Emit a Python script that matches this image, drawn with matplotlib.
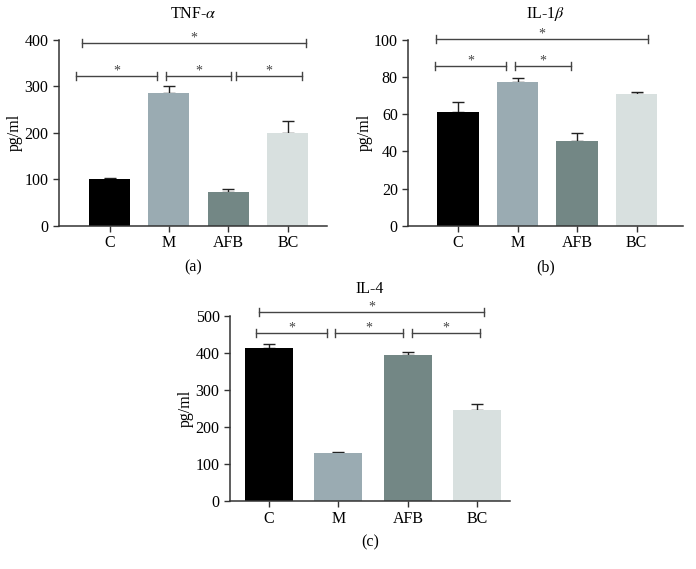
"""Cytokine levels (TNF-a, IL-1b, IL-4) per group, three bar panels."""

import numpy as np
import matplotlib
matplotlib.use("Agg")
import matplotlib.pyplot as plt

plt.rcParams['font.family'] = ['Liberation Serif', 'DejaVu Serif']
plt.rcParams['mathtext.fontset'] = 'stix'

groups = ['C', 'M', 'AFB', 'BC']
colors = ['#000000', '#9aabb2', '#738785', '#d8e0df']

tnf_mean = [100, 285, 72, 199]
tnf_err = [2, 16, 8, 26]

il1b_mean = [61.4, 77.5, 45.6, 70.8]
il1b_err = [5.2, 1.9, 4.2, 1.0]

il4_mean = [412, 130, 393, 246]
il4_err = [11, 1.5, 9, 17]

# significance brackets: (x start, x end, height)
tnf_sig = [(-0.47, 3.30, 393), (-0.57, 0.80, 323), (0.955, 2.04, 323), (2.13, 3.24, 323)]
il1b_sig = [(-0.375, 3.20, 100.5), (-0.39, 0.81, 86.2), (0.96, 1.90, 86.2)]
il4_sig = [(-0.14, 3.10, 511), (-0.19, 0.84, 454), (0.955, 1.93, 454), (2.065, 3.04, 454)]

AX_COLOR = '#333333'


def draw_panel(ax, means, errs, sig, ymax, ystep, xlim, title, label):
    x = np.arange(len(groups))
    ax.bar(x, means, width=0.69, color=colors, zorder=2)
    ax.errorbar(x, means, yerr=[np.zeros(len(errs)), errs], fmt='none',
                ecolor='#222222', elinewidth=1.0, capsize=4.5, capthick=1.0,
                zorder=1)

    ax.set_xlim(*xlim)
    ax.set_ylim(0, ymax)
    ax.set_yticks(np.arange(0, ymax + ystep / 2, ystep))
    ax.set_xticks(x)
    ax.set_xticklabels(groups, fontsize=11.5)
    ax.tick_params(axis='y', labelsize=11.5, length=4, width=1.0, color=AX_COLOR)
    ax.tick_params(axis='x', length=4, width=1.0, color=AX_COLOR, pad=3)
    for side in ['top', 'right']:
        ax.spines[side].set_visible(False)
    for side in ['left', 'bottom']:
        ax.spines[side].set_color(AX_COLOR)
        ax.spines[side].set_linewidth(1.1)
    ax.set_ylabel('pg/ml', fontsize=11.5, labelpad=1)

    cap = ymax * 0.022
    for x0, x1, h in sig:
        ax.plot([x0, x1], [h, h], color='#444444', lw=1.0, clip_on=False)
        ax.plot([x0, x0], [h - cap, h + cap], color='#444444', lw=1.0, clip_on=False)
        ax.plot([x1, x1], [h - cap, h + cap], color='#444444', lw=1.0, clip_on=False)
        ax.text((x0 + x1) / 2, h - ymax * 0.008, '*', ha='center', va='bottom',
                fontsize=10, color='#444444')

    ax.set_title(title, fontsize=11.5, pad=16)
    ax.text(0.5, -0.18, label, transform=ax.transAxes, ha='center', va='top',
            fontsize=11.5)


fig = plt.figure(figsize=(6.96, 5.69), dpi=100)

ax_a = fig.add_axes([0.0848, 0.6033, 0.385, 0.3264])
draw_panel(ax_a, tnf_mean, tnf_err, tnf_sig, 400, 100, (-0.85, 3.66),
           r'TNF-$\alpha$', '(a)')

ax_b = fig.add_axes([0.5866, 0.6033, 0.3947, 0.3264])
draw_panel(ax_b, il1b_mean, il1b_err, il1b_sig, 100, 20, (-0.835, 3.78),
           r'IL-1$\beta$', '(b)')

ax_c = fig.add_axes([0.3305, 0.1195, 0.4023, 0.3257])
draw_panel(ax_c, il4_mean, il4_err, il4_sig, 500, 100, (-0.56, 3.47),
           'IL-4', '(c)')

fig.savefig('out.png', dpi=100, facecolor='white')
